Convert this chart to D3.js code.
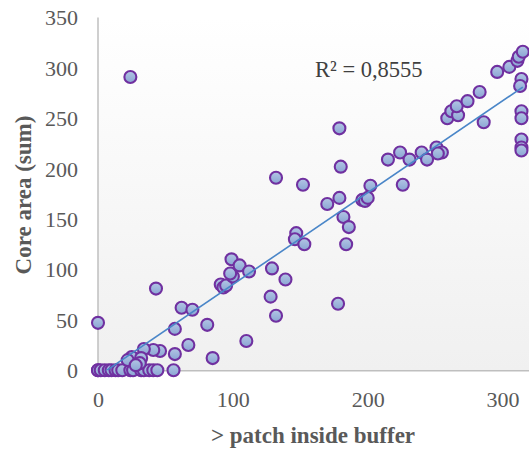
<!DOCTYPE html>
<html><head><meta charset="utf-8">
<script src="https://cdn.jsdelivr.net/npm/d3@7"></script>
<style>html,body{margin:0;padding:0;background:#fff;}svg{display:block;}</style>
</head><body>
<svg id="c" width="529" height="450"></svg>
<script>
// x: > patch inside buffer, y: Core area (sum)
const xValues = [0,0,2,5,8,10,13,15,18,24,26,32,34,38,41,44,56,
  0,62,70,57,81,67,110,85,57,46,41,34,25,22,32,31,28,
  43,91,93,95,100,98,99,105,112,129,139,128,132,178,132,152,147,146,153,
  170,179,182,186,184,180,179,196,198,200,202,215,224,226,231,240,244,251,255,252,
  259,262,267,266,274,283,286,296,305,311,312,315,314,313,314,314,314,314,314,24];
const yValues = [0,0,0,0,0,0,0,0,0,0,0,0,0,0,0,0,0,
  47,62,60,41,45,25,29,12,16,19,20,21,13,10,12,7,5,
  81,85,82,84,93,96,110,104,98,101,90,73,54,66,191,184,136,130,125,
  165,171,152,142,125,202,240,169,168,171,183,209,216,184,209,216,209,221,216,215,
  250,257,253,262,267,276,246,296,301,307,311,316,289,282,257,250,229,221,218,291];
const xTicks = [0,100,200,300];
const yTicks = [0,50,100,150,200,250,300,350];
const r2Label = "R² = 0,8555";
const xTitle = "> patch inside buffer";
const yTitle = "Core area (sum)";

(function draw() {
const svg = d3.select("#c");
const W = 529;
const pL = 98, pT = 17.5, pB = 370.2;
const x = d3.scaleLinear().domain([0,350]).range([pL, pL + 472]);
const y = d3.scaleLinear().domain([0,350]).range([pB, pT]);
const serif = "'Liberation Serif', 'Times New Roman', serif";

const defs = svg.append("defs");
const bg = defs.append("linearGradient").attr("id","bg").attr("x1",0).attr("y1",0).attr("x2",0).attr("y2",1);
bg.append("stop").attr("offset","0%").attr("stop-color","#ffffff");
bg.append("stop").attr("offset","100%").attr("stop-color","#f0f0f0");
const mg = defs.append("linearGradient").attr("id","mk").attr("x1",0).attr("y1",0).attr("x2",0).attr("y2",1);
mg.append("stop").attr("offset","0%").attr("stop-color","#b3c6e5");
mg.append("stop").attr("offset","100%").attr("stop-color","#8aa5d3");
defs.append("clipPath").attr("id","plot").append("rect")
  .attr("x", pL).attr("y", pT).attr("width", W - pL).attr("height", pB - pT);

svg.append("rect").attr("x", pL).attr("y", pT).attr("width", W - pL).attr("height", pB - pT)
  .attr("fill","url(#bg)");

const xAxis = d3.axisBottom(x).tickValues(xTicks).tickSize(0).tickPadding(0);
const gx = svg.append("g").attr("transform", `translate(0,${pB})`).call(xAxis);
gx.select(".domain").attr("d", `M${pL},0.5H${W}`).attr("stroke","#bfbfbf").attr("stroke-width",1.5);
gx.selectAll("text").attr("y", 37).attr("dy", 0)
  .attr("font-family", serif).attr("font-size", 22).attr("fill","#595959");

const yAxis = d3.axisLeft(y).tickValues(yTicks).tickSize(0).tickPadding(0);
const gy = svg.append("g").attr("transform", `translate(${pL},0)`).call(yAxis);
gy.select(".domain").attr("d", `M0,${pT}V${pB}`).attr("stroke","#bfbfbf").attr("stroke-width",1.5);
gy.selectAll("text").attr("x", -20).attr("dy", "0.34em")
  .attr("font-family", serif).attr("font-size", 22).attr("fill","#595959");

const n = xValues.length;
const mx = d3.mean(xValues), my = d3.mean(yValues);
let sxy = 0, sxx = 0;
for (let i = 0; i < n; i++) { sxy += (xValues[i]-mx)*(yValues[i]-my); sxx += (xValues[i]-mx)**2; }
const slope = sxy / sxx, icpt = my - slope * mx;
const x0 = d3.min(xValues), x1 = d3.max(xValues);

svg.append("g").selectAll("circle").data(d3.range(n)).join("circle")
  .attr("cx", i => x(xValues[i])).attr("cy", i => y(yValues[i])).attr("r", 6)
  .attr("fill","url(#mk)").attr("stroke","#7030a0").attr("stroke-width",2.1);

svg.append("g").attr("clip-path","url(#plot)").append("line")
  .attr("x1", x(x0)).attr("y1", y(icpt + slope*x0))
  .attr("x2", x(x1)).attr("y2", y(icpt + slope*x1))
  .attr("stroke","#4a86c8").attr("stroke-width",1.6);

svg.append("text").attr("x", 315).attr("y", 77).text(r2Label)
  .attr("font-family", serif).attr("font-size", 22.5).attr("fill","#404040");

svg.append("text").attr("x", 313).attr("y", 443).attr("text-anchor","middle").text(xTitle)
  .attr("font-family", serif).attr("font-weight","bold")
  .attr("font-size", 23).attr("fill","#595959");

svg.append("text").attr("transform","translate(31,195) rotate(-90)").attr("text-anchor","middle").text(yTitle)
  .attr("font-family", serif).attr("font-weight","bold")
  .attr("font-size", 23).attr("fill","#595959");
})();
</script>
</body></html>
